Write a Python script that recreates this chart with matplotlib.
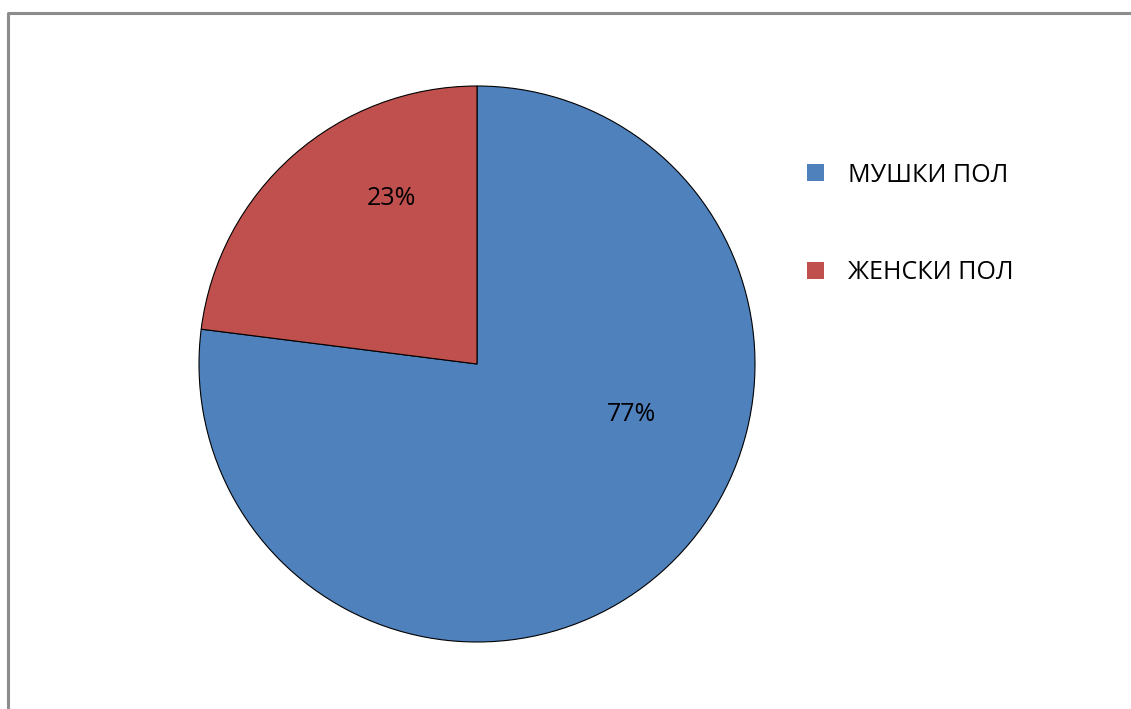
import matplotlib.pyplot as plt
from matplotlib.lines import Line2D

labels = ['МУШКИ ПОЛ', 'ЖЕНСКИ ПОЛ']
shares = [77, 23]
colors = ['#4F81BD', '#C0504D']
pct_pos = [(0.557, -0.183), (-0.309, 0.597)]

plt.rcParams['font.family'] = ['Open Sans', 'DejaVu Sans']

fig = plt.figure(figsize=(11.31, 7.09), dpi=100)
ax = fig.add_axes([199 / 1131, 67 / 709, 556 / 1131, 556 / 709])

wedges, texts, autotexts = ax.pie(
    shares,
    colors=colors,
    startangle=90,
    counterclock=False,
    autopct='%1.0f%%',
    wedgeprops={'edgecolor': 'black', 'linewidth': 0.8},
    textprops={'fontsize': 18, 'color': 'black'},
)
for t, pos in zip(autotexts, pct_pos):
    t.set_position(pos)
ax.set_xlim(-1, 1)
ax.set_ylim(-1, 1)
ax.set_aspect('equal')

fig.legend(
    wedges, labels,
    loc='upper left',
    bbox_to_anchor=(784 / 1131, 1 - 140 / 709),
    frameon=False,
    fontsize=18,
    handlelength=0.68,
    handleheight=0.68,
    handletextpad=1.0,
    labelspacing=2.9,
)
for h in fig.legends[0].legend_handles:
    h.set_edgecolor('none')

# outer frame, only left and top edges are visible
fig.add_artist(Line2D([8 / 1131, 8 / 1131, 1], [0, 1 - 13 / 709, 1 - 13 / 709],
                      color='#8c8c8c', linewidth=2.2))

fig.savefig('out.png', dpi=100)
